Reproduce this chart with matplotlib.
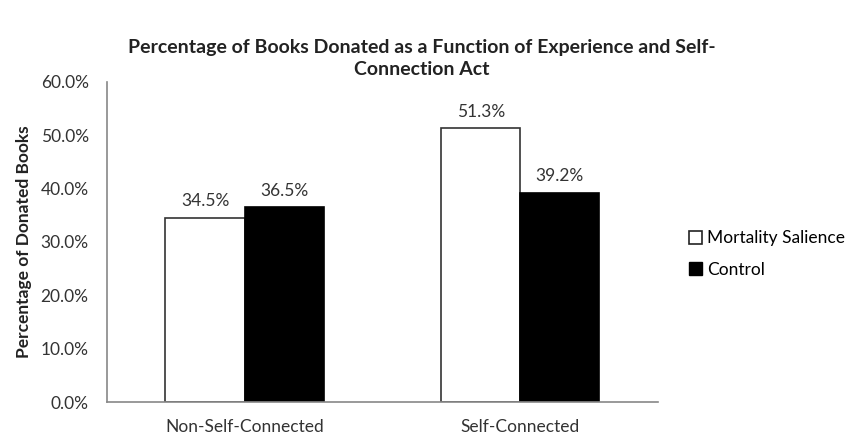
import matplotlib.pyplot as plt
import numpy as np
from matplotlib.patches import Patch

categories = ['Non-Self-Connected', 'Self-Connected']
mortality = [34.5, 51.3]
control = [36.5, 39.2]
series_names = ['Mortality Salience', 'Control']

plt.rcParams['font.family'] = ['Lato', 'DejaVu Sans']

fig = plt.figure(figsize=(8.47, 4.38), dpi=100)
ax = fig.add_axes([0.126, 0.082, 0.651, 0.731])

x = np.arange(len(categories))
w = 0.287
b1 = ax.bar(x - w / 2, mortality, w, color='white', edgecolor='#333333', linewidth=1.2)
b2 = ax.bar(x + w / 2, control, w, color='black', edgecolor='black', linewidth=1.2)

for bars, vals in ((b1, mortality), (b2, control)):
    for bar, v in zip(bars, vals):
        ax.text(bar.get_x() + bar.get_width() / 2, v + 1.6, f'{v:.1f}%',
                ha='center', va='bottom', fontsize=12.5, color='#333333')

ax.set_xlim(-0.5, 1.5)
ax.set_ylim(0, 60)
ax.set_yticks(np.arange(0, 61, 10))
ax.set_yticklabels([f'{t:.1f}%' for t in np.arange(0, 61, 10)])
ax.set_xticks(x)
ax.set_xticklabels(categories)
ax.tick_params(axis='both', length=0, labelsize=12.5, colors='#333333')
ax.tick_params(axis='y', pad=13)
ax.tick_params(axis='x', pad=12)

for s in ('top', 'right'):
    ax.spines[s].set_visible(False)
for s in ('left', 'bottom'):
    ax.spines[s].set_color('#888888')
    ax.spines[s].set_linewidth(1.2)

ax.set_ylabel('Percentage of Donated Books', fontsize=12.5, fontweight='bold', color='#222222', labelpad=6)

fig.suptitle('Percentage of Books Donated as a Function of Experience and Self-\nConnection Act',
             x=0.498, y=0.91, fontsize=14, fontweight='bold', color='#222222', linespacing=1.35)

handles = [Patch(facecolor='white', edgecolor='#222222', linewidth=1.2),
           Patch(facecolor='black', edgecolor='black')]
fig.legend(handles, series_names, loc='center left', bbox_to_anchor=(0.795, 0.42),
           frameon=False, fontsize=12.5, handlelength=0.75, handleheight=0.75,
           handletextpad=0.3, labelspacing=0.9)

fig.savefig('out.png', dpi=100)
